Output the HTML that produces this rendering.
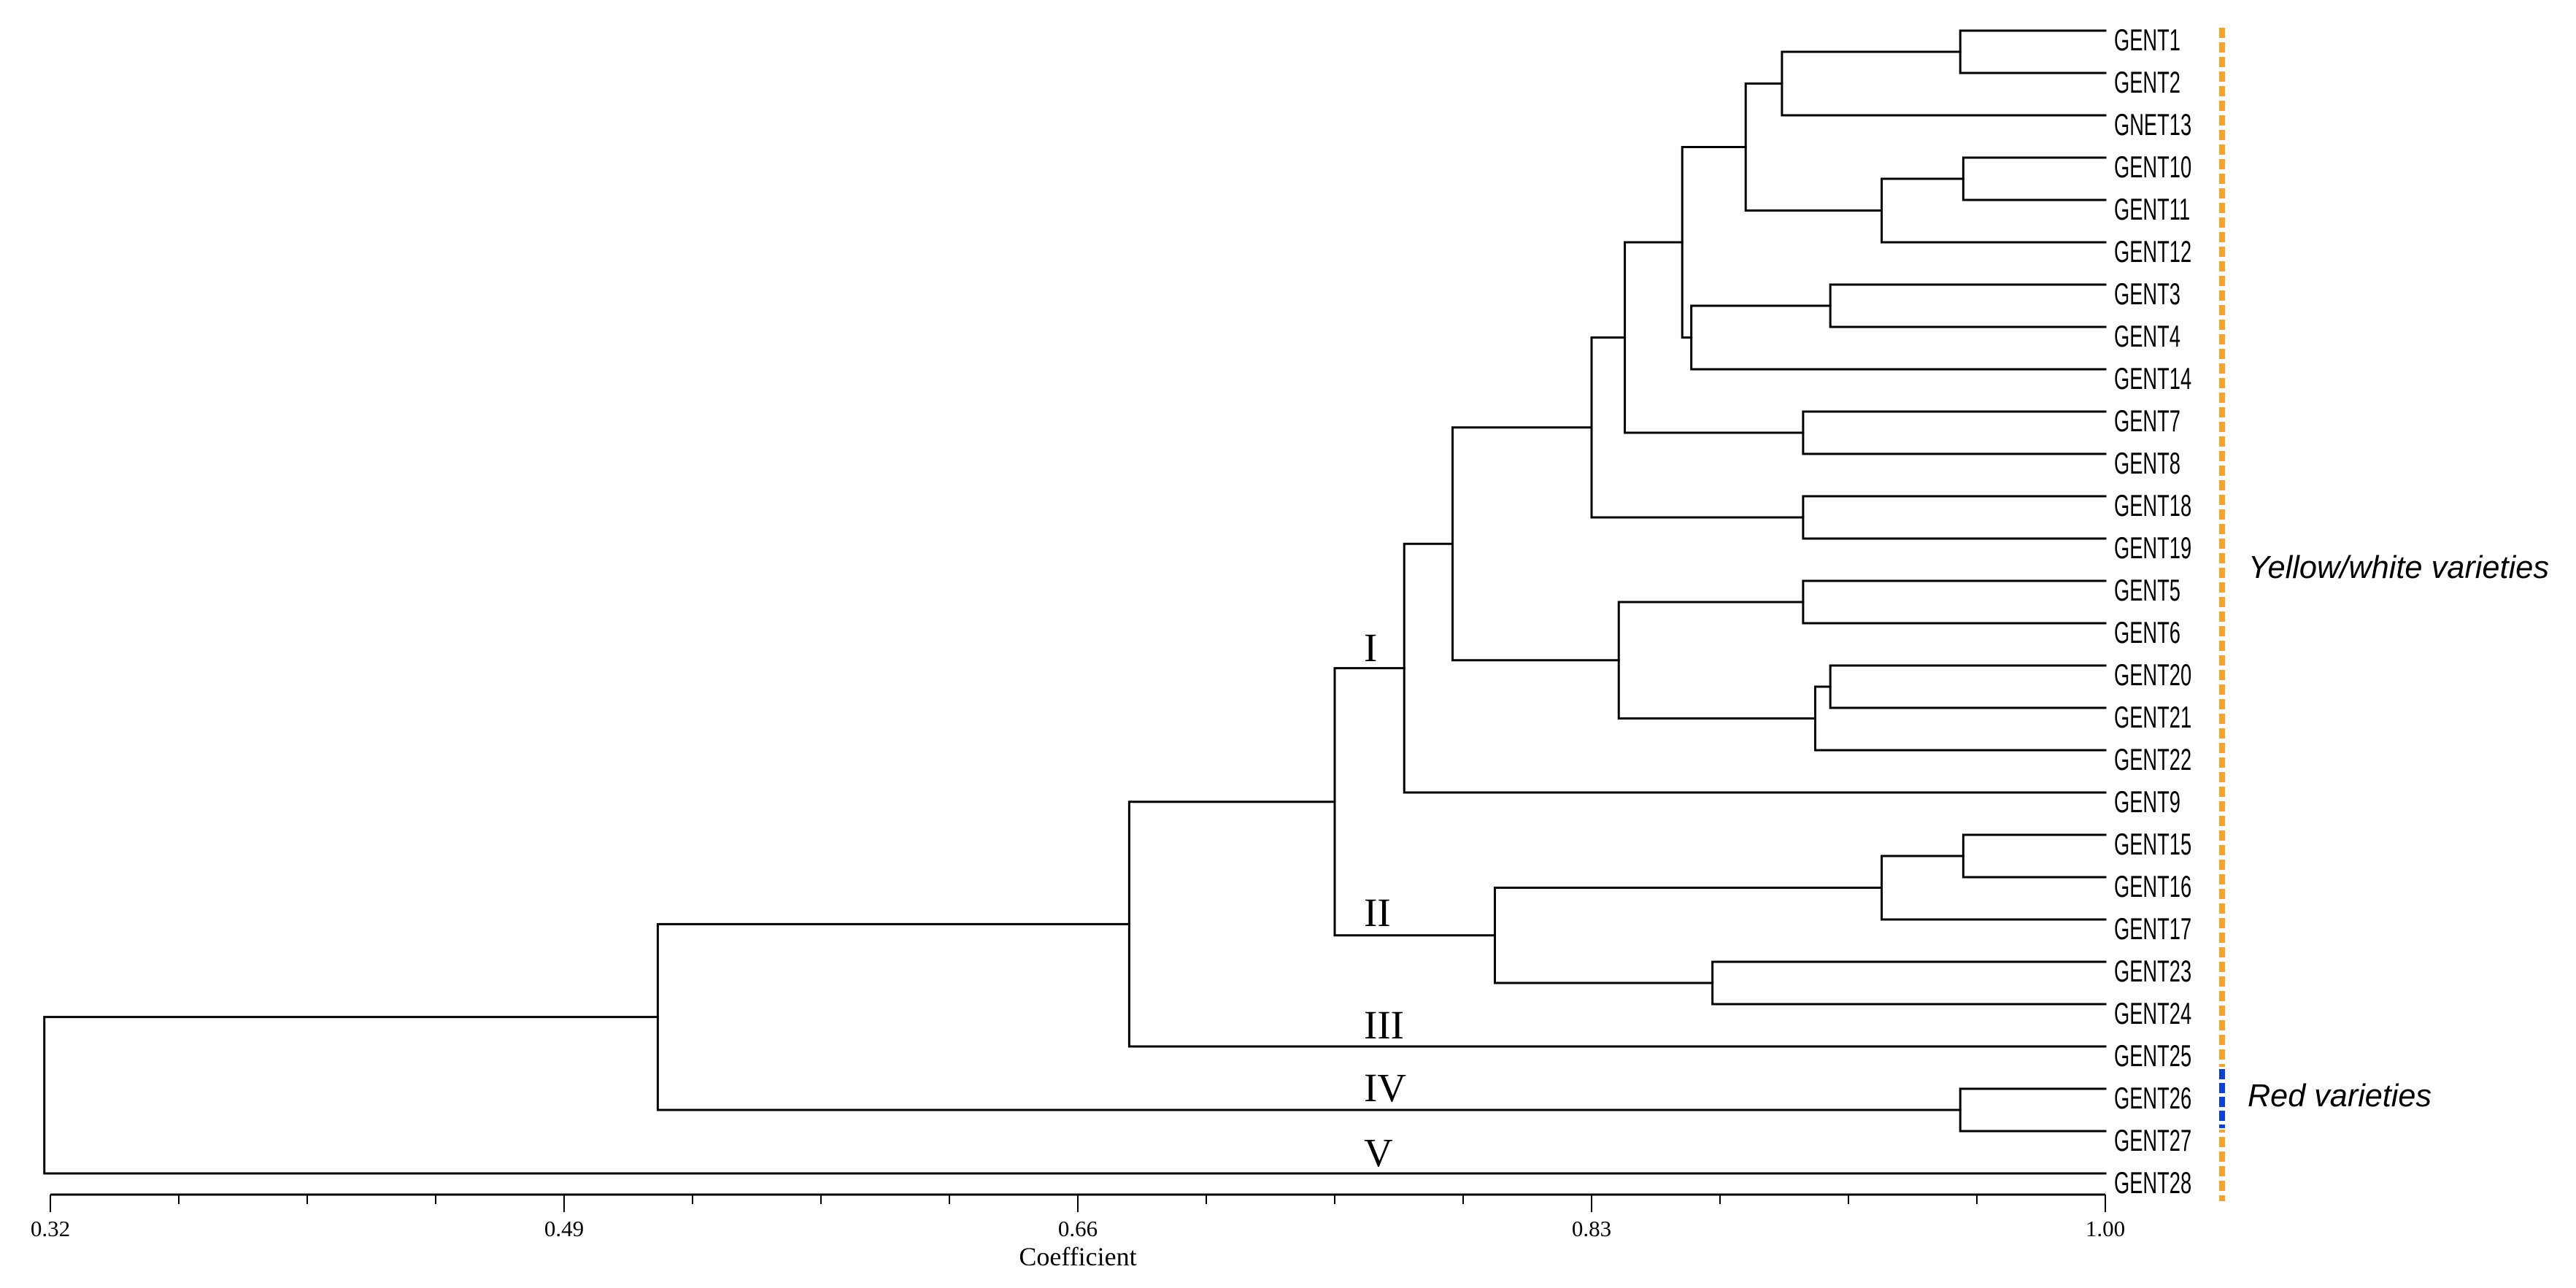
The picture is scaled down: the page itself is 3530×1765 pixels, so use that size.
<!DOCTYPE html>
<html><head><meta charset="utf-8"><style>
html,body{margin:0;padding:0;background:#fff;}
svg{display:block;}
</style></head><body>
<svg id="chart" xmlns="http://www.w3.org/2000/svg" width="3530" height="1765" viewBox="0 0 3530 1765">
<rect width="3530" height="1765" fill="#fff"/>
<g id="tree" stroke="#000" stroke-width="3" fill="none" stroke-linecap="square"></g>
<g id="leaves"></g>
<g id="axis"></g>
<g font-family="'Liberation Serif', serif" font-size="55" fill="#000">
<text x="1869" y="906">I</text>
<text x="1869" y="1269">II</text>
<text x="1869" y="1423">III</text>
<text x="1869" y="1509">IV</text>
<text x="1869" y="1598">V</text>
</g>
<g>
<line x1="3045" y1="38" x2="3045" y2="1646" stroke="#f7a128" stroke-width="8" stroke-dasharray="14 6"/>
<rect x="3040" y="1462" width="10" height="86" fill="#fff"/>
<line x1="3045" y1="1465" x2="3045" y2="1546" stroke="#0a3fe0" stroke-width="8" stroke-dasharray="14 5"/>
</g>
<g font-family="'Liberation Sans', sans-serif" font-style="italic" font-size="44" fill="#000">
<text x="3081" y="792" textLength="412" lengthAdjust="spacingAndGlyphs">Yellow/white varieties</text>
<text x="3080" y="1516" textLength="252" lengthAdjust="spacingAndGlyphs">Red varieties</text>
</g>
</svg>
<script>
const leaves = ["GENT1","GENT2","GNET13","GENT10","GENT11","GENT12","GENT3","GENT4","GENT14","GENT7","GENT8","GENT18","GENT19","GENT5","GENT6","GENT20","GENT21","GENT22","GENT9","GENT15","GENT16","GENT17","GENT23","GENT24","GENT25","GENT26","GENT27","GENT28"];
const mergeLeft  = ["GENT1","n1","GENT10","n3","n2","GENT3","n6","n5","GENT7","n8","GENT18","n10","GENT5","GENT20","n14","n13","n12","n17","GENT15","n19","GENT23","n20","n18","n23","GENT26","n24","n26"];
const mergeRight = ["GENT2","GNET13","GENT11","GENT12","n4","GENT4","GENT14","n7","GENT8","n9","GENT19","n11","GENT6","GENT21","GENT22","n15","n16","GENT9","GENT16","GENT17","GENT24","n21","n22","GENT25","GENT27","n25","GENT28"];
const mergeHeight = [0.952,0.893,0.953,0.926,0.881,0.909,0.863,0.860,0.900,0.841,0.900,0.830,0.900,0.909,0.904,0.839,0.784,0.768,0.953,0.926,0.870,0.798,0.745,0.677,0.952,0.521,0.318];
const tickMajor = [0.32,0.49,0.66,0.83,1.00];
const tickLabels = ["0.32","0.49","0.66","0.83","1.00"];

const X0=69, X1=2885, C0=0.32, C1=1.00;
const xs = c => X0 + (c-C0)/(C1-C0)*(X1-X0);
const Y0=42, DY=58;
const ys = i => Y0 + i*DY;
const NS="http://www.w3.org/2000/svg";
function mk(tag, attrs, parent){const e=document.createElementNS(NS,tag);for(const k in attrs)e.setAttribute(k,attrs[k]);parent.appendChild(e);return e;}

const tree=document.getElementById('tree'), lg=document.getElementById('leaves'), ax=document.getElementById('axis');
const pos={};
leaves.forEach((n,i)=>{pos[n]={x:xs(1.0),y:ys(i)};
  const t=mk('text',{x:0,y:0,'font-family':"'Liberation Sans', sans-serif",'font-size':42,fill:'#000',transform:`translate(2897,${ys(i)+27}) scale(0.65,1)`},lg);
  
  
  t.textContent=n;
});
mergeLeft.forEach((l,k)=>{
  const r=mergeRight[k], x=xs(mergeHeight[k]);
  const a=pos[l], b=pos[r];
  const p=mk('path',{d:`M${a.x},${a.y}H${x}V${b.y}H${b.x}`},tree);
  
  
  pos['n'+(k+1)]={x:x,y:(a.y+b.y)/2};
});
const axisY=1637;
const al=mk('line',{x1:X0,y1:axisY,x2:X1,y2:axisY,stroke:'#000','stroke-width':3},ax);


for(let i=0;i<=16;i++){
  const c=C0+(C1-C0)*i/16, x=xs(c), major=i%4===0;
  const t=mk('line',{x1:x,y1:axisY,x2:x,y2:axisY+(major?24:13),stroke:'#000','stroke-width':2},ax);
  
  
}
tickMajor.forEach((c,i)=>{
  const t=mk('text',{x:xs(c),y:1694,'text-anchor':'middle','font-family':"'Liberation Serif', serif",'font-size':31,fill:'#000'},ax);
  
  
  t.textContent=tickLabels[i];
});
const tt=mk('text',{x:xs(0.66),y:1734,'text-anchor':'middle','font-family':"'Liberation Serif', serif",'font-size':36,fill:'#000'},ax);


tt.textContent="Coefficient";
</script>
</body></html>
